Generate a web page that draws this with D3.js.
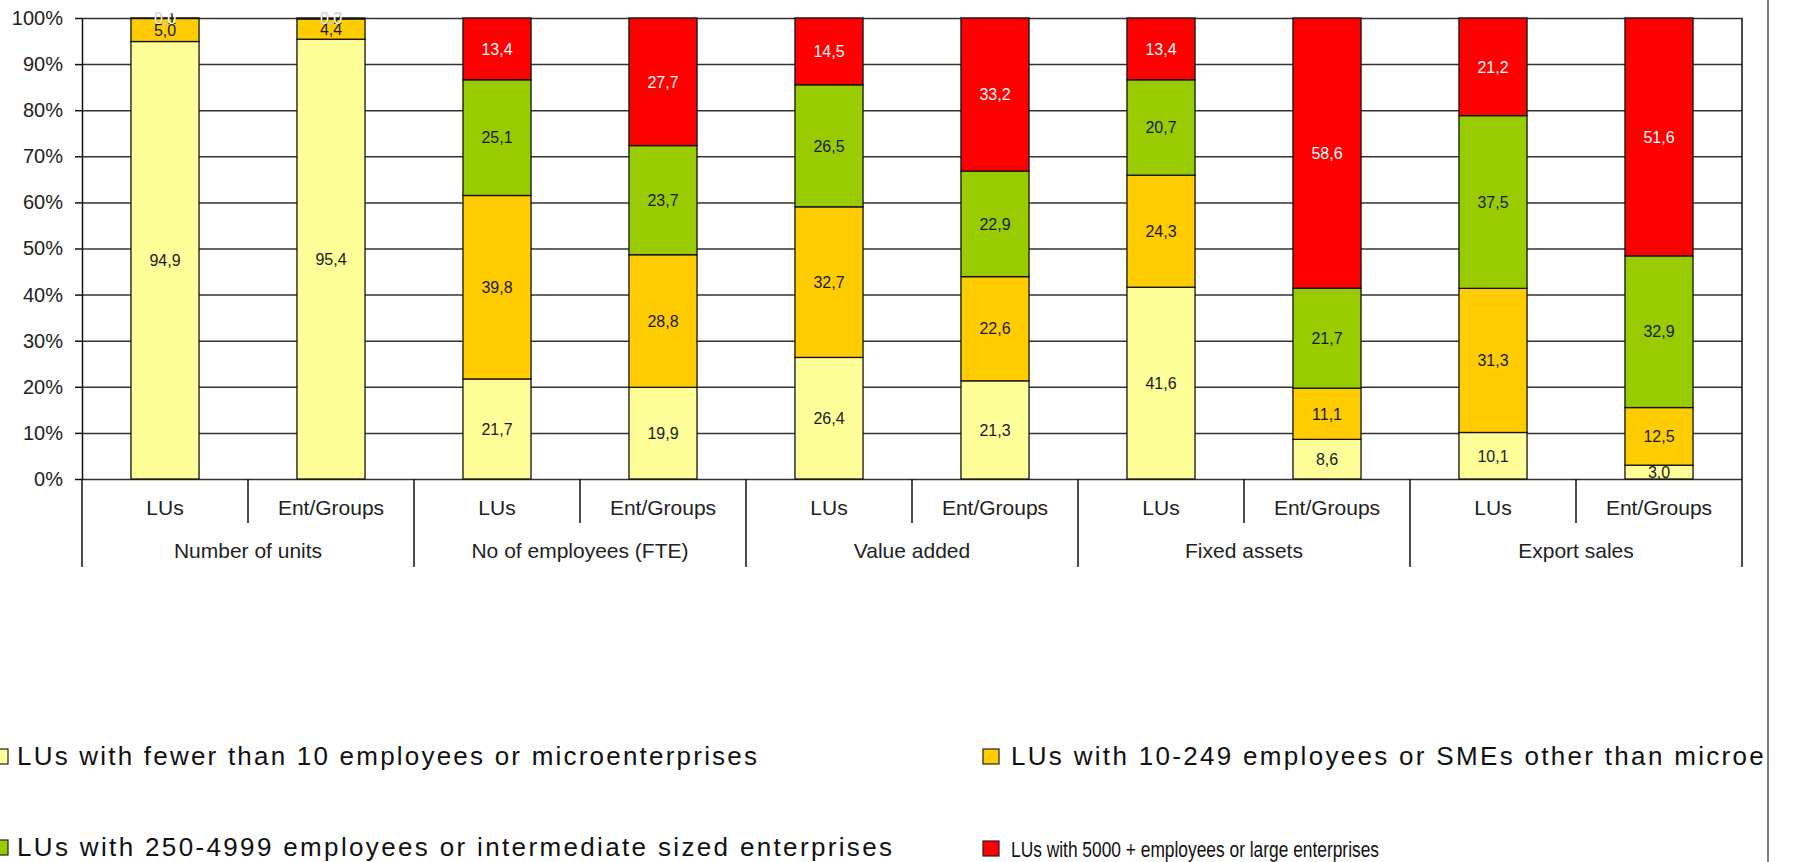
<!DOCTYPE html>
<html>
<head>
<meta charset="utf-8">
<script src="https://cdn.jsdelivr.net/npm/d3@7"></script>
<style>
  body { margin: 0; background: #fff; }
  svg { display: block; }
  text { font-family: "Liberation Sans", Arial, sans-serif; }
</style>
</head>
<body>
<svg id="chart" width="1793" height="862"></svg>
<script>
// categories
const groups = ['Number of units', 'No of employees (FTE)', 'Value added', 'Fixed assets', 'Export sales'];
const units = ['LUs', 'Ent/Groups'];

// series values (%), one per bar: LUs / Ent/Groups for each group
const micro        = [94.9, 95.4, 21.7, 19.9, 26.4, 21.3, 41.6, 8.6, 10.1, 3.0];
const sme          = [5.0, 4.4, 39.8, 28.8, 32.7, 22.6, 24.3, 11.1, 31.3, 12.5];
const intermediate = [0.1, 0.2, 25.1, 23.7, 26.5, 22.9, 20.7, 21.7, 37.5, 32.9];
const large        = [0.0, 0.0, 13.4, 27.7, 14.5, 33.2, 13.4, 58.6, 21.2, 51.6];

const seriesKeys = ['micro', 'sme', 'intermediate', 'large'];
const seriesNames = [
  'LUs with fewer than 10 employees or microenterprises',
  'LUs with 10-249 employees or SMEs other than microenterprises',
  'LUs with 250-4999 employees or intermediate sized enterprises',
  'LUs with 5000 + employees or large enterprises'
];
const colors = ['#FFFF99', '#FFCC00', '#99CC00', '#FF0000'];
const yTicks = [0, 0.1, 0.2, 0.3, 0.4, 0.5, 0.6, 0.7, 0.8, 0.9, 1];

const rows = micro.map((m, i) => ({
  id: i,
  group: groups[Math.floor(i / 2)],
  unit: units[i % 2],
  micro: m,
  sme: sme[i],
  intermediate: intermediate[i],
  large: large[i]
}));

const svg = d3.select('#chart');
const width = +svg.attr('width');
const height = +svg.attr('height');
const margin = { top: 18, right: 51, bottom: 383, left: 82 };
const plotW = width - margin.left - margin.right;
const bottomY = height - margin.bottom;

const x = d3.scaleBand()
  .domain(rows.map(d => d.id))
  .range([margin.left, margin.left + plotW])
  .paddingInner(0.59)
  .paddingOuter(0.295);

const xGroup = d3.scaleBand()
  .domain(groups)
  .range([margin.left, margin.left + plotW]);

const y = d3.scaleLinear().domain([0, 1]).range([bottomY, margin.top]);

const fmt = v => d3.format('.1f')(v).replace('.', ',');

// gridlines
svg.append('g')
  .attr('transform', `translate(${margin.left},0)`)
  .call(d3.axisLeft(y).tickValues(yTicks).tickSize(-plotW).tickFormat(''))
  .call(g => g.select('.domain').remove())
  .selectAll('line')
  .attr('stroke', '#333')
  .attr('stroke-width', 1.5);

const stack = d3.stack().keys(seriesKeys).offset(d3.stackOffsetExpand);
const layers = stack(rows);

// bars
const layerG = svg.append('g')
  .selectAll('g')
  .data(layers)
  .enter().append('g')
  .attr('fill', (d, i) => colors[i]);

layerG.selectAll('rect')
  .data(d => d)
  .enter().append('rect')
  .attr('x', d => x(d.data.id))
  .attr('y', d => y(d[1]))
  .attr('width', x.bandwidth())
  .attr('height', d => y(d[0]) - y(d[1]))
  .attr('stroke', '#111')
  .attr('stroke-width', 1.3);

// value labels (large-series label drawn last, in white)
layers.forEach((layer, li) => {
  svg.append('g')
    .selectAll('text')
    .data(layer)
    .enter().append('text')
    .attr('x', d => x(d.data.id) + x.bandwidth() / 2)
    .attr('y', d => (y(d[0]) + y(d[1])) / 2)
    .attr('dy', '0.36em')
    .attr('text-anchor', 'middle')
    .attr('font-size', 16)
    .attr('fill', li === 3 ? '#fff' : '#1a1a1a')
    .text(d => fmt(d.data[layer.key]));
});

// y axis
svg.append('g')
  .attr('transform', `translate(${margin.left},0)`)
  .call(d3.axisLeft(y).tickValues(yTicks).tickSize(7).tickSizeOuter(0).tickPadding(12).tickFormat(d3.format('.0%')))
  .call(g => g.select('.domain').attr('stroke', '#111').attr('stroke-width', 1.5))
  .call(g => g.selectAll('.tick line').attr('stroke', '#111').attr('stroke-width', 1.5))
  .call(g => g.selectAll('.tick text').attr('font-size', 20).attr('fill', '#222').style('font-family', '"Liberation Sans", Arial, sans-serif'));

// category axis separators
const step = x.step();
const sep = d3.range(rows.length + 1);
svg.append('g')
  .selectAll('line')
  .data(sep)
  .enter().append('line')
  .attr('x1', i => margin.left + i * step)
  .attr('x2', i => margin.left + i * step)
  .attr('y1', i => (i === rows.length ? y(1) : y(0)))
  .attr('y2', i => y(0) + (i % 2 === 0 ? 88 : 44))
  .attr('stroke', '#111')
  .attr('stroke-width', 1.5);

// unit labels
svg.append('g')
  .selectAll('text')
  .data(rows)
  .enter().append('text')
  .attr('x', d => x(d.id) + x.bandwidth() / 2)
  .attr('y', y(0) + 36)
  .attr('text-anchor', 'middle')
  .attr('font-size', 21)
  .attr('fill', '#222')
  .text(d => d.unit);

// group labels
svg.append('g')
  .selectAll('text')
  .data(groups)
  .enter().append('text')
  .attr('x', d => xGroup(d) + xGroup.bandwidth() / 2)
  .attr('y', y(0) + 79)
  .attr('text-anchor', 'middle')
  .attr('font-size', 21)
  .attr('fill', '#222')
  .text(d => d);

// legend (2 x 2), text clipped at the outer frame
svg.append('clipPath').attr('id', 'legclip')
  .append('rect').attr('x', 0).attr('y', 0).attr('width', 1767).attr('height', height);

const legendPos = [
  { sx: -8, tx: 17, base: 765, size: 26, len: 740, adj: 'spacing' },
  { sx: 983, tx: 1011, base: 765, size: 26, len: 890, adj: 'spacing' },
  { sx: -8, tx: 17, base: 856, size: 26, len: 875, adj: 'spacing' },
  { sx: 983, tx: 1011, base: 857, size: 22, len: 368, adj: 'spacingAndGlyphs' }
];

const legend = svg.append('g').attr('clip-path', 'url(#legclip)');
seriesNames.forEach((name, i) => {
  const p = legendPos[i];
  legend.append('rect')
    .attr('x', p.sx).attr('y', p.base - 16)
    .attr('width', 16).attr('height', 15)
    .attr('fill', colors[i])
    .attr('stroke', '#222')
    .attr('stroke-width', 1.2);
  legend.append('text')
    .attr('x', p.tx).attr('y', p.base)
    .attr('font-size', p.size)
    .attr('fill', '#111')
    .attr('textLength', p.len)
    .attr('lengthAdjust', p.adj)
    .text(name);
});

// outer frame edge
svg.append('line')
  .attr('x1', 1768).attr('x2', 1768)
  .attr('y1', 0).attr('y2', height)
  .attr('stroke', '#555')
  .attr('stroke-width', 1.5);
</script>
</body>
</html>
